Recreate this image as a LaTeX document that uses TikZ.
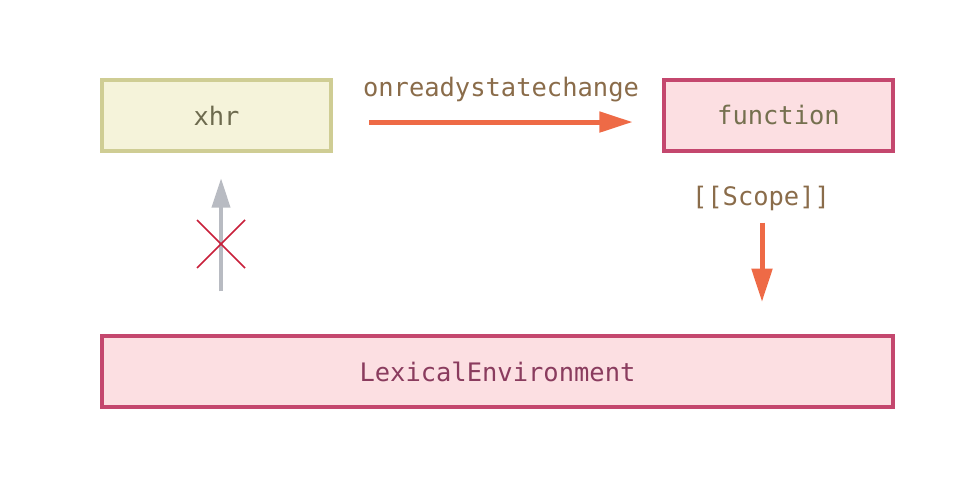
\documentclass[tikz,border=0pt]{standalone}
\usepackage{fontspec}
\setmonofont{DejaVu Sans Mono}
\usetikzlibrary{arrows.meta}
\definecolor{VarFill}{HTML}{F5F3DA}
\definecolor{VarEdge}{HTML}{CFCD94}
\definecolor{VarText}{HTML}{6D6A4E}
\definecolor{FunFill}{HTML}{FCDFE2}
\definecolor{FunEdge}{HTML}{C4476E}
\definecolor{FunText}{HTML}{75704F}
\definecolor{EnvText}{HTML}{8A3C5E}
\definecolor{LabelBrown}{HTML}{8A6C4A}
\definecolor{RefOrange}{HTML}{EE6A46}
\definecolor{LinkGray}{HTML}{B8BBC2}
\definecolor{CrossRed}{HTML}{C8203A}

\begin{document}
\begin{tikzpicture}[x=0.75pt, y=-0.75pt,
    every node/.style={font=\ttfamily\fontsize{19.1}{23}\selectfont},
    varbox/.style={draw=VarEdge, fill=VarFill, line width=3pt, text=VarText,
                   minimum width=171.75pt, minimum height=53.25pt},
    funbox/.style={draw=FunEdge, fill=FunFill, line width=3pt, text=FunText,
                   minimum width=171.75pt, minimum height=53.25pt},
    envbox/.style={funbox, text=EnvText, minimum width=593.25pt},
    labeltext/.style={text=LabelBrown, inner sep=0pt},
    refarrow/.style={draw=RefOrange, line width=3.75pt,
                     -{Triangle[length=25pt, width=15pt]}},
    grayarrow/.style={draw=LinkGray, line width=3pt,
                      -{Triangle[length=22pt, width=13.5pt]}}
]
    \useasboundingbox (0,0) rectangle (976,492);

    \node[varbox] (xhr) at (216.5,115.5) {xhr};
    \node[funbox] (fn) at (778.5,115.5) {function};
    \node[envbox] (lex) at (497.5,371.5) {LexicalEnvironment};

    \node[labeltext] (handler) at (501,90) {onreadystatechange};
    \node[labeltext] (scope) at (761,198) {[[Scope]]};

    \draw[refarrow, shorten <=27pt, shorten >=22pt]
        ([yshift=-4.9pt]xhr.east) -- ([yshift=-4.9pt]fn.west);
    \draw[refarrow, shorten <=9pt, shorten >=24pt]
        ([xshift=0.75pt]scope.south) -- ([xshift=0.75pt]scope.south |- lex.north);
    \draw[grayarrow, shorten <=32pt, shorten >=19pt]
        ([xshift=3.4pt]xhr.south |- lex.north) -- ([xshift=3.4pt]xhr.south);

    % the broken link
    \coordinate (cross) at (221,244);
    \draw[CrossRed, line width=1.2pt]
        ([shift={(-24,-24)}]cross) -- ([shift={(24,24)}]cross)
        ([shift={(24,-24)}]cross) -- ([shift={(-24,24)}]cross);
\end{tikzpicture}
\end{document}
